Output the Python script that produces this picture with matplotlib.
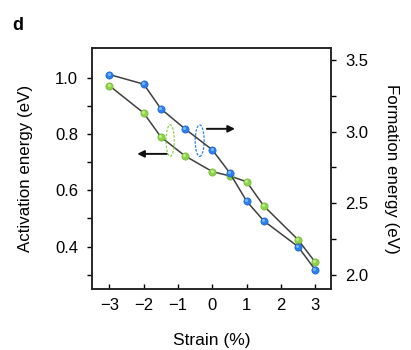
import numpy as np
import matplotlib.pyplot as plt
from matplotlib.patches import Ellipse
from matplotlib.transforms import offset_copy

plt.rcParams['font.family'] = ['Liberation Sans', 'DejaVu Sans']

# =============================
# Data
# =============================
strain = [-3, -2, -1.5, -0.8, 0, 0.5, 1, 1.5, 2.5, 3]
activation = [0.971, 0.874, 0.789, 0.722, 0.666, 0.651, 0.630, 0.544, 0.424, 0.344]
formation = [3.397, 3.33, 3.158, 3.019, 2.872, 2.714, 2.514, 2.377, 2.197, 2.035]

x_ticks = [-3, -2, -1, 0, 1, 2, 3]
x_labels = ['\u22123', '\u22122', '\u22121', '0', '1', '2', '3']
left_ticks = [0.4, 0.6, 0.8, 1.0]
right_ticks = [2.0, 2.5, 3.0, 3.5]

green = '#8cd447'
green_hi = '#c8f09a'
blue = '#2a80ee'
blue_hi = '#8cc4ff'
line_col = '#404040'

fig = plt.figure(figsize=(4.11, 3.5), dpi=100)
ax = fig.add_axes([0.2246, 0.1734, 0.58, 0.6886])
ax2 = ax.twinx()


# =============================
# Helper: line + shaded ball markers
# =============================
def shaded_series(a, x, y, col, hi, edge):
    a.plot(x, y, '-', color=line_col, lw=1.1, zorder=2)
    a.plot(x, y, 'o', ms=5.2, mfc=col, mec=edge, mew=0.5, zorder=3)
    tr = offset_copy(a.transData, fig=fig, x=-0.6, y=0.6, units='points')
    a.plot(x, y, 'o', ms=2.2, mfc=hi, mec='none', alpha=0.8, transform=tr, zorder=4)


shaded_series(ax, strain, activation, green, green_hi, '#6fb52f')
shaded_series(ax2, strain, formation, blue, blue_hi, '#1a62c8')

ax.set_xlim(-3.5, 3.45)
ax.set_ylim(0.248, 1.104)
ax2.set_ylim(1.90, 3.58)

ax.set_xticks(x_ticks)
ax.set_xticklabels(x_labels)
ax.set_yticks(left_ticks)
ax.set_yticks([0.3, 0.5, 0.7, 0.9], minor=True)
ax.set_yticklabels(['0.4', '0.6', '0.8', '1.0'])
ax2.set_yticks(right_ticks)
ax2.set_yticks([2.25, 2.75, 3.25], minor=True)
ax2.set_yticklabels(['2.0', '2.5', '3.0', '3.5'])

for a in (ax, ax2):
    for s in a.spines.values():
        s.set_linewidth(1.1)
        s.set_color('#222222')

ax.tick_params(axis='x', direction='in', length=3.8, width=1.0, labelsize=12, pad=6.5)
ax.tick_params(axis='y', which='both', direction='out', length=3.5, width=1.0, labelsize=12, pad=6.8)
ax2.tick_params(axis='y', which='both', direction='out', length=3.5, width=1.0, labelsize=12, pad=6.8)

ax.set_xlabel('Strain (%)', fontsize=12.5, labelpad=14)
ax.set_ylabel('Activation energy (eV)', fontsize=12.2, labelpad=16)
ax2.set_ylabel('Formation energy (eV)', fontsize=12.2, rotation=270, labelpad=22)

# Dashed ellipses and arrows marking which axis each series uses
ax.add_patch(Ellipse((-1.23, 0.776), 0.24, 0.112, fill=False, ls=(0, (2, 1.2)),
                     ec=green, lw=0.9, zorder=5))
ax.add_patch(Ellipse((-0.37, 0.776), 0.26, 0.112, fill=False, ls=(0, (2, 1.2)),
                     ec=blue, lw=0.9, zorder=5))
ax.annotate('', xy=(0.66, 0.818), xytext=(-0.16, 0.818),
            arrowprops=dict(arrowstyle='-|>', color='#111111', lw=1.4,
                            mutation_scale=10, shrinkA=0, shrinkB=0), zorder=5)
ax.annotate('', xy=(-2.19, 0.729), xytext=(-1.33, 0.729),
            arrowprops=dict(arrowstyle='-|>', color='#111111', lw=1.4,
                            mutation_scale=10, shrinkA=0, shrinkB=0), zorder=5)

fig.text(0.029, 0.914, 'd', fontsize=13, fontweight='bold')

fig.savefig('out.png', dpi=100)
